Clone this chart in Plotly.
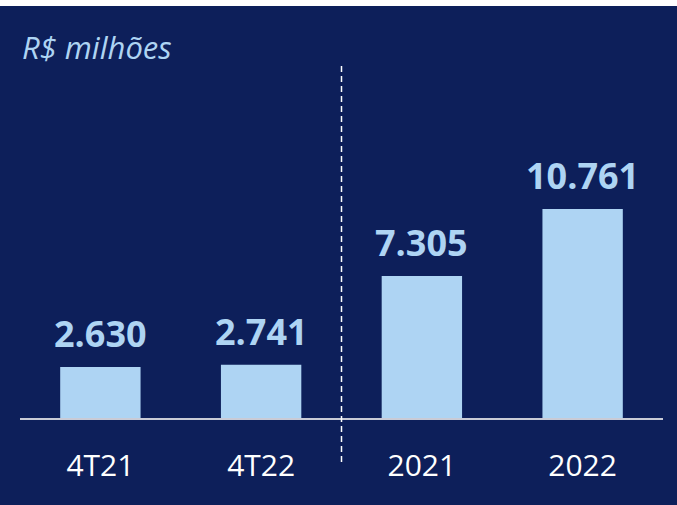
import plotly.graph_objects as go

categories = ["4T21", "4T22", "2021", "2022"]
values = [2630, 2741, 7305, 10761]
value_labels = ["2.630", "2.741", "7.305", "10.761"]
unit_label = "R$ milhões"

BG = "#0d1f5a"
BAR = "#aed4f3"

W, H = 677, 505
L, R, T, B = 20, 14, 60, 87
plot_h = H - T - B

fig = go.Figure()
fig.add_trace(go.Bar(
    x=list(range(len(categories))), y=values,
    marker=dict(color=BAR, line=dict(width=0)),
    width=0.5, hoverinfo="skip",
))

for i, (v, lab) in enumerate(zip(values, value_labels)):
    fig.add_annotation(x=i, y=v, text="<b>%s</b>" % lab, showarrow=False,
                       yanchor="bottom", yshift=7,
                       font=dict(family="Open Sans", size=36, color=BAR))

def py(pix):
    return (H - B - pix) / plot_h

# title
fig.add_annotation(xref="paper", yref="paper", x=(20 - L) / (W - L - R), y=py(47),
                   xanchor="left", yanchor="middle", showarrow=False,
                   text="<i>%s</i>" % unit_label,
                   font=dict(family="Open Sans", size=31, color=BAR))

# separator
fig.add_shape(type="line", xref="x", yref="paper", x0=1.5, x1=1.5,
              y0=py(462), y1=py(65),
              line=dict(color="white", width=1.5, dash="6px,4px"))
# white strip at top
fig.add_shape(type="rect", xref="paper", yref="paper", x0=-0.1, x1=1.1,
              y0=py(6), y1=py(-2), fillcolor="white", line=dict(width=0))

fig.update_layout(
    width=W, height=H, margin=dict(l=L, r=R, t=T, b=B),
    paper_bgcolor=BG, plot_bgcolor=BG, showlegend=False,
    xaxis=dict(range=[-0.5, 3.5], showgrid=False, zeroline=False,
               tickmode="array", tickvals=list(range(len(categories))),
               ticktext=categories,
               showline=True, linecolor="#c9cbd6", linewidth=2,
               ticks="", ticklabelstandoff=20,
               tickfont=dict(family="Open Sans", size=30, color="white")),
    yaxis=dict(range=[0, plot_h / 0.01943], visible=False, showgrid=False, zeroline=False),
)

fig.write_html("out.html", config={"displayModeBar": False},
               post_script="document.body.style.margin='0';")
